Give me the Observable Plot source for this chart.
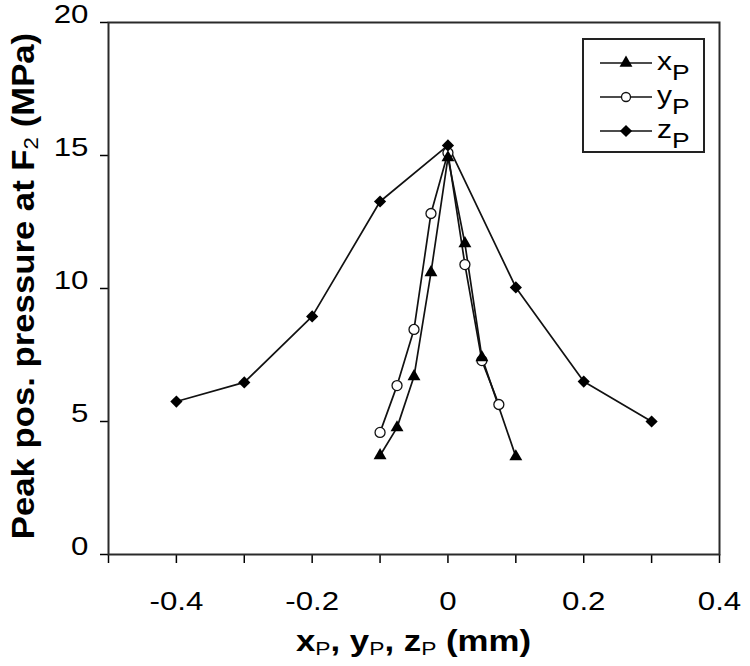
<!DOCTYPE html>
<html><head><meta charset="utf-8">
<script src="https://cdn.jsdelivr.net/npm/d3@7"></script>
<script src="https://cdn.jsdelivr.net/npm/@observablehq/plot@0.6"></script>
<style>
body{margin:0;background:#fff}
svg{font-family:"Liberation Sans",Arial,sans-serif}
</style>
</head><body><div id="chart"></div>
<script>
// ---- data ----
const seriesNames = ["x", "y", "z"];
const xP_pos = [-0.1, -0.075, -0.05, -0.025, 0, 0.025, 0.05, 0.1];
const xP_val = [3.72, 4.77, 6.69, 10.6, 14.92, 11.69, 7.41, 3.68];
const yP_pos = [-0.1, -0.075, -0.05, -0.025, 0, 0.025, 0.05, 0.075];
const yP_val = [4.59, 6.35, 8.46, 12.82, 15.1, 10.9, 7.29, 5.64];
const zP_pos = [-0.4, -0.3, -0.2, -0.1, 0, 0.1, 0.2, 0.3];
const zP_val = [5.75, 6.47, 8.95, 13.27, 15.38, 10.04, 6.5, 5.0];
const xTicks = [-0.5, -0.4, -0.3, -0.2, -0.1, 0, 0.1, 0.2, 0.3, 0.4];
const xTickLabels = ["", "-0.4", "", "-0.2", "", "0", "", "0.2", "", "0.4"];
const yTicks = [0, 5, 10, 15, 20];
const yTickLabels = ["0", "5", "10", "15", "20"];

const toRows = (p, v) => p.map((d, i) => ({pos: d, val: v[i]}));
const xData = toRows(xP_pos, xP_val);
const yData = toRows(yP_pos, yP_val);
const zData = toRows(zP_pos, zP_val);

const SX = 1.25; // glyph widening of the original font
const INK = "#000";
const FS = 25;

const chart = Plot.plot({
  width: 750, height: 666,
  marginLeft: 108, marginRight: 31, marginTop: 22, marginBottom: 112,
  style: {fontFamily: '"Liberation Sans", Arial, sans-serif', fontSize: FS + "px", color: INK, background: "#fff"},
  x: {domain: [-0.5, 0.4]},
  y: {domain: [0, 20]},
  marks: [
    Plot.axisX({ticks: xTicks, tickFormat: d => xTickLabels[xTicks.indexOf(d)], tickSize: 9, tickPadding: 46, label: null, fontSize: FS, strokeWidth: 1.5}),
    Plot.axisY({ticks: yTicks, tickFormat: d => yTickLabels[yTicks.indexOf(d)], tickSize: 8, tickPadding: 12, label: null, fontSize: FS, strokeWidth: 1.5}),
    Plot.frame({stroke: "#2a2a2a", strokeWidth: 2}),
    Plot.line(zData, {x: "pos", y: "val", stroke: "#111", strokeWidth: 1.7}),
    Plot.line(xData, {x: "pos", y: "val", stroke: "#111", strokeWidth: 1.7}),
    Plot.line(yData, {x: "pos", y: "val", stroke: "#111", strokeWidth: 1.7}),
    Plot.dot(yData, {x: "pos", y: "val", symbol: "circle", r: 5, fill: "#fff", stroke: "#111", strokeWidth: 1.3}),
    Plot.dot(xData, {x: "pos", y: "val", symbol: "triangle", r: 4.8, fill: "#000", stroke: "none"}),
    Plot.dot(zData, {x: "pos", y: "val", symbol: "diamond2", r: 5.5, fill: "#000", stroke: "none"})
  ]
});
document.getElementById("chart").appendChild(chart);

const svg = d3.select(chart);

function stretch() {
  const t = this;
  let tr = t.getAttribute("transform") || "";
  const x = t.getAttribute("x"), y = t.getAttribute("y");
  let dx = t.getAttribute("dx");
  let ox = 0;
  if (dx !== null) {
    if (/em$/.test(dx)) ox = parseFloat(dx) * FS; else ox = parseFloat(dx) || 0;
    t.removeAttribute("dx");
  }
  tr += ` translate(${(+x || 0) + ox},${+y || 0})`;
  t.removeAttribute("x"); t.removeAttribute("y");
  t.setAttribute("transform", tr + ` scale(${SX},1)`);
}
svg.selectAll('g[aria-label="x-axis tick label"] text').each(stretch);
svg.selectAll('g[aria-label="y-axis tick label"] text').each(stretch);

// x-axis title with subscripts
const xs = chart.scale("x"), ys = chart.scale("y");
const xc = (xs.range[0] + xs.range[1]) / 2;
const yc = (ys.range[0] + ys.range[1]) / 2;
const xt = svg.append("text")
  .attr("transform", `translate(${xc},651) scale(1.2,1)`)
  .attr("text-anchor", "middle").attr("font-weight", "bold").attr("font-size", 29).attr("fill", INK);
const parts = [["x", false], ["P", true], [", y", false], ["P", true], [", z", false], ["P", true], [" (mm)", false]];
for (const [s, sub] of parts) {
  const ts = xt.append("tspan").text(s);
  if (sub) ts.attr("font-size", 19).attr("font-weight", "normal").attr("dy", 4);
  else if (s !== "x") ts.attr("dy", -4);
}

// y-axis title
const yt = svg.append("text")
  .attr("transform", `translate(34,${yc - 2}) rotate(-90) scale(1.12,1)`)
  .attr("text-anchor", "middle").attr("font-weight", "bold").attr("font-size", 31).attr("fill", INK);
yt.append("tspan").text("Peak pos. pressure at F");
yt.append("tspan").text("2").attr("font-size", 20).attr("font-weight", "normal").attr("dy", 4);
yt.append("tspan").text(" (MPa)").attr("dy", -4);

// legend
const lg = svg.append("g");
lg.append("rect").attr("x", 583).attr("y", 39).attr("width", 121).attr("height", 113)
  .attr("fill", "#fff").attr("stroke", "#222").attr("stroke-width", 2);
const legSyms = [
  {sym: d3.symbolTriangle, r: 4.8, fill: "#000", stroke: "none"},
  {sym: d3.symbolCircle, r: 4.5, fill: "#fff", stroke: "#111"},
  {sym: d3.symbolDiamond2, r: 5.5, fill: "#000", stroke: "none"}
];
seriesNames.forEach((name, i) => {
  const cy = 63 + i * 34;
  lg.append("line").attr("x1", 600).attr("x2", 652).attr("y1", cy).attr("y2", cy).attr("stroke", "#111").attr("stroke-width", 1.7);
  const s = legSyms[i];
  lg.append("path").attr("transform", `translate(626,${cy})`)
    .attr("d", d3.symbol(s.sym, s.r * s.r * Math.PI)())
    .attr("fill", s.fill).attr("stroke", s.stroke).attr("stroke-width", 1.3);
  const t = lg.append("text").attr("transform", `translate(657,${cy + 7}) scale(1.2,1)`)
    .attr("text-anchor", "start").attr("font-size", 25).attr("fill", INK);
  t.append("tspan").text(name);
  t.append("tspan").text("P").attr("font-size", 22).attr("dy", 10);
});
</script>
</body></html>
